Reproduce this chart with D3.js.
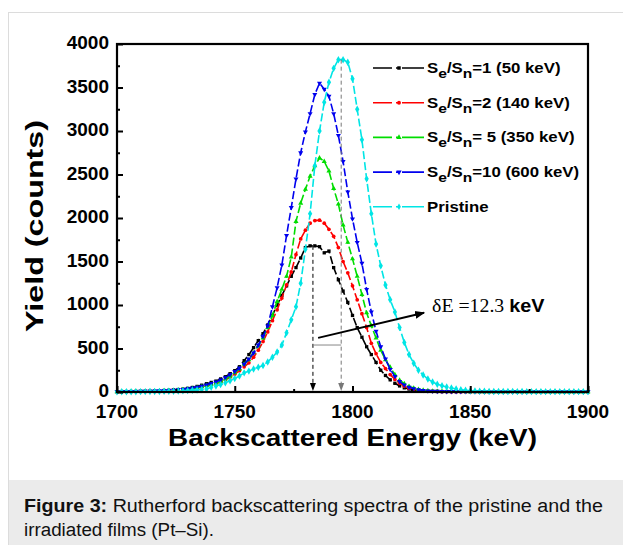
<!DOCTYPE html>
<html>
<head>
<meta charset="utf-8">
<script src="https://cdn.jsdelivr.net/npm/d3@7"></script>
<style>
body { margin: 0; background: #fff; }
svg { display: block; font-family: "Liberation Sans", Arial, sans-serif; }
</style>
</head>
<body>
<svg id="chart" width="623" height="545"></svg>
<script>
//channel energies (keV)
const energy = [1700,1702,1704,1706,1708,1710,1712,1714,1716,1718,
    1720,1722,1724,1726,1728,1730,1732,1734,1736,1738,
    1740,1742,1744,1746,1748,1750,1752,1754,1756,1758,
    1760,1762,1764,1766,1768,1770,1772,1774,1776,1778,
    1780,1782,1784,1786,1788,1790,1792,1794,1796,1798,
    1800,1802,1804,1806,1808,1810,1812,1814,1816,1818,
    1820,1822,1824,1826,1828,1830,1832,1834,1836,1838,
    1840,1842,1844,1846,1848,1850,1852,1854,1856,1858,
    1860,1862,1864,1866,1868,1870,1872,1874,1876,1878,
    1880,1882,1884,1886,1888,1890,1892,1894,1896,1898,
    1900];

//yield (counts) for each sample
const yieldS1 = [4,5,5,6,7,8,9,10,12,14,
    17,20,24,28,34,42,52,64,78,95,
    110,125,150,175,210,245,290,360,430,510,
    590,670,770,880,1000,1110,1220,1330,1430,1540,
    1660,1680,1680,1670,1600,1620,1430,1290,1160,1030,
    880,740,630,520,430,340,250,190,140,100,
    70,48,34,24,17,12,9,7,6,5,
    5,4,4,5,4,3,4,4,3,3,
    3,4,3,3,4,3,3,3,4,3,
    3,3,3,4,3,3,3,3,3,3,
    3];
const yieldS2 = [3,4,4,5,6,7,8,9,10,11,
    13,15,18,21,25,30,37,45,55,68,
    82,95,115,140,170,205,245,290,335,400,
    480,580,690,820,945,1080,1230,1380,1580,1760,
    1860,1940,1970,1975,1940,1870,1790,1660,1500,1370,
    1220,1060,900,740,560,440,340,270,200,145,
    100,66,44,30,21,15,11,8,6,5,
    5,4,4,4,3,4,3,3,3,3,
    3,3,4,3,3,3,3,3,3,3,
    3,3,3,3,3,3,3,3,3,3,
    3];
const yieldS5 = [3,4,4,5,6,7,8,9,10,12,
    14,16,19,23,28,34,41,50,62,74,
    88,102,122,148,180,220,265,320,370,450,
    530,620,740,880,1040,1180,1330,1550,1960,2170,
    2330,2480,2600,2690,2650,2540,2340,2160,1920,1720,
    1530,1330,1120,910,760,620,480,370,285,200,
    135,95,65,45,30,20,14,10,8,6,
    5,5,4,4,4,3,4,3,3,3,
    3,3,3,3,4,3,3,3,3,3,
    3,3,3,3,3,3,3,3,3,3,
    3];
const yieldS10 = [4,4,5,6,7,8,9,10,12,14,
    16,18,21,25,30,37,46,56,68,82,
    98,115,138,165,200,235,275,320,380,450,
    540,640,760,980,1200,1460,1800,2120,2450,2750,
    2990,3200,3420,3550,3480,3400,3200,2950,2650,2300,
    1990,1720,1480,1180,920,700,520,380,260,180,
    120,80,55,38,26,18,13,10,8,7,
    6,5,5,4,4,4,4,3,3,3,
    3,3,3,4,3,3,3,3,3,3,
    3,3,3,3,4,3,3,3,3,3,
    3];
const yieldPristine = [2,2,3,3,3,4,4,5,5,6,
    7,8,9,11,13,16,19,23,28,34,
    55,68,85,105,130,155,185,220,240,265,
    285,305,345,400,460,540,680,830,980,1250,
    1640,2050,2600,3000,3330,3560,3720,3820,3820,3790,
    3600,3250,2900,2450,2050,1700,1450,1230,1060,920,
    740,570,430,330,250,195,150,115,90,72,
    58,45,35,27,20,15,12,10,8,7,
    6,6,5,5,5,4,5,4,4,4,
    4,4,4,4,4,4,4,4,4,4,
    4];

//legend names and colours
const seriesNames = ["S|e|/S|n|=1 (50 keV)", "S|e|/S|n|=2 (140 keV)", "S|e|/S|n|= 5  (350 keV)", "S|e|/S|n|=10 (600 keV)", "Pristine"];
const seriesColors = ["#000000", "#ff0000", "#00dd00", "#0000ee", "#00e5e5"];
const seriesMarkers = [d3.symbolSquare, d3.symbolCircle, d3.symbolTriangle, d3.symbolTriangle, d3.symbolDiamond];
const seriesValues = [yieldS1, yieldS2, yieldS5, yieldS10, yieldPristine];

//axis ticks
const xTicks = [1700, 1750, 1800, 1850, 1900];
const yTicks = [0, 500, 1000, 1500, 2000, 2500, 3000, 3500, 4000];

//peak positions and shift annotation
const peakS1 = {e: 1783.2, v: 1680};
const peakPristine = {e: 1795.2, v: 3820};
const shiftLevel = 540;
const arrowFrom = {e: 1785.4, v: 622};
const arrowTo = {e: 1830.4, v: 910};

const svg = d3.select("#chart");
const margin = ({top: 44, right: 35, bottom: 153, left: 117});
const width = 623, height = 545;

//figure frame and caption box
svg.append("rect").attr("x", 8.5).attr("y", 12.5).attr("width", 620).attr("height", 540)
    .attr("fill", "none").attr("stroke", "#dcdcdc");
svg.append("rect").attr("x", 9).attr("y", 480).attr("width", 614).attr("height", 65).attr("fill", "#ebebeb");

const x = d3.scaleLinear().domain([1700, 1900]).range([margin.left, width - margin.right]);
const y = d3.scaleLinear().domain([0, 4000]).range([height - margin.bottom, margin.top]);

const line = d3.line().x((v, i) => x(energy[i])).y(v => y(v));

//curves, pristine on top
const plot = svg.append("g");
seriesValues.forEach((vals, k) => {
    plot.append("path")
        .attr("d", line(vals))
        .attr("fill", "none")
        .attr("stroke", seriesColors[k])
        .attr("stroke-width", 1.6)
        .attr("stroke-dasharray", "8,3");
    const sym = d3.symbol().type(seriesMarkers[k]).size(k === 4 ? 16 : 11);
    plot.append("g").selectAll("path")
        .data(vals)
        .join("path")
            .attr("transform", (v, i) => `translate(${x(energy[i])},${y(v)})` + (k === 3 ? " rotate(180)" : ""))
            .attr("d", sym)
            .attr("fill", seriesColors[k]);
});

//peak markers
function downArrow(e, v, color) {
    svg.append("line")
        .attr("x1", x(e)).attr("x2", x(e))
        .attr("y1", y(v)).attr("y2", y(0) - 6)
        .attr("stroke", color).attr("stroke-width", 1)
        .attr("stroke-dasharray", "4,3");
    svg.append("path")
        .attr("d", `M${x(e) - 3},${y(0) - 9}L${x(e) + 3},${y(0) - 9}L${x(e)},${y(0) - 1}Z`)
        .attr("fill", color);
}
downArrow(peakS1.e, peakS1.v, "#000");
downArrow(peakPristine.e, peakPristine.v, "#777");

svg.append("line")
    .attr("x1", x(peakS1.e)).attr("x2", x(peakPristine.e))
    .attr("y1", y(shiftLevel)).attr("y2", y(shiftLevel))
    .attr("stroke", "#888").attr("stroke-width", 1);

//delta E arrow
svg.append("defs").append("marker")
    .attr("id", "head").attr("viewBox", "0 0 10 10")
    .attr("refX", 9).attr("refY", 5)
    .attr("markerWidth", 5).attr("markerHeight", 5)
    .attr("orient", "auto")
    .append("path").attr("d", "M0,1L10,5L0,9Z").attr("fill", "#000");
svg.append("line")
    .attr("x1", x(arrowFrom.e)).attr("y1", y(arrowFrom.v))
    .attr("x2", x(arrowTo.e)).attr("y2", y(arrowTo.v))
    .attr("stroke", "#000").attr("stroke-width", 2)
    .attr("marker-end", "url(#head)");

const dE = svg.append("text")
    .attr("transform", `translate(${x(arrowTo.e) + 8},${y(arrowTo.v) - 1}) scale(1.1,1)`)
    .style("font-size", "18px");
dE.append("tspan").style("font-family", "'Liberation Serif', serif").text("\u03b4E =12.3 ");
dE.append("tspan").style("font-weight", "bold").text("keV");

//axes with inward ticks
const xAxis = svg.append("g").attr("transform", `translate(0,${y(0)})`)
    .call(d3.axisBottom(x).tickValues(d3.range(1700, 1901, 25)).tickSize(-6).tickFormat(""));
xAxis.selectAll(".tick line").attr("y2", (d) => (d % 50 === 0) ? -6 : -3).attr("stroke-width", 2);
const yAxis = svg.append("g").attr("transform", `translate(${x(1700)},0)`)
    .call(d3.axisLeft(y).tickValues(d3.range(0, 4001, 250)).tickSize(-6).tickFormat(""));
yAxis.selectAll(".tick line").attr("x2", (d) => (d % 500 === 0) ? 6 : 3).attr("stroke-width", 2);
svg.selectAll(".domain").remove();

svg.append("rect")
    .attr("x", x(1700)).attr("y", y(4000))
    .attr("width", x(1900) - x(1700)).attr("height", y(0) - y(4000))
    .attr("fill", "none").attr("stroke", "#000").attr("stroke-width", 2.2);

svg.append("g").selectAll("text").data(xTicks).join("text")
    .attr("x", d => x(d)).attr("y", y(0) + 26)
    .attr("text-anchor", "middle")
    .style("font-size", "19px").style("font-weight", "bold")
    .text(d => d);
svg.append("g").selectAll("text").data(yTicks).join("text")
    .attr("x", x(1700) - 8).attr("y", d => y(d) + 5)
    .attr("text-anchor", "end")
    .style("font-size", "19px").style("font-weight", "bold")
    .text(d => d);

//axis titles
svg.append("text")
    .attr("x", 168).attr("y", 446)
    .attr("textLength", 369).attr("lengthAdjust", "spacingAndGlyphs")
    .style("font-size", "23px").style("font-weight", "bold")
    .text("Backscattered Energy (keV)");
svg.append("text")
    .attr("transform", "translate(43,332) rotate(-90)")
    .attr("textLength", 212).attr("lengthAdjust", "spacingAndGlyphs")
    .style("font-size", "23px").style("font-weight", "bold")
    .text("Yield (counts)");

//legend
const legend = svg.append("g");
seriesNames.forEach((name, k) => {
    const ly = 68 + k * 34.7;
    legend.append("line")
        .attr("x1", 373).attr("x2", 424).attr("y1", ly).attr("y2", ly)
        .attr("stroke", seriesColors[k]).attr("stroke-width", 1.6)
        .attr("stroke-dasharray", "19,4,2,4,22");
    legend.append("path")
        .attr("transform", `translate(399,${ly})` + (k === 3 ? " rotate(180)" : ""))
        .attr("d", d3.symbol().type(seriesMarkers[k]).size(12))
        .attr("fill", seriesColors[k]);
    const t = legend.append("text")
        .attr("transform", `translate(427,${ly + 5}) scale(1.2,1)`)
        .style("font-size", "14px").style("font-weight", "bold");
    name.split("|").forEach((part, j) => {
        const sub = j % 2 === 1;
        t.append("tspan")
            .attr("dy", sub ? 5 : (j > 0 ? -5 : 0))
            .style("font-size", sub ? "13px" : "14px")
            .text(part);
    });
});

//caption
const cap = svg.append("g").style("font-size", "18px").attr("fill", "#111");
const c1 = cap.append("text").attr("x", 24).attr("y", 512)
    .attr("textLength", 579).attr("lengthAdjust", "spacingAndGlyphs");
c1.append("tspan").style("font-weight", "bold").text("Figure 3:");
c1.append("tspan").text(" Rutherford backscattering spectra of the pristine and the");
cap.append("text").attr("x", 24).attr("y", 536)
    .attr("textLength", 190).attr("lengthAdjust", "spacingAndGlyphs")
    .text("irradiated films (Pt\u2013Si).");
</script>
</body>
</html>
